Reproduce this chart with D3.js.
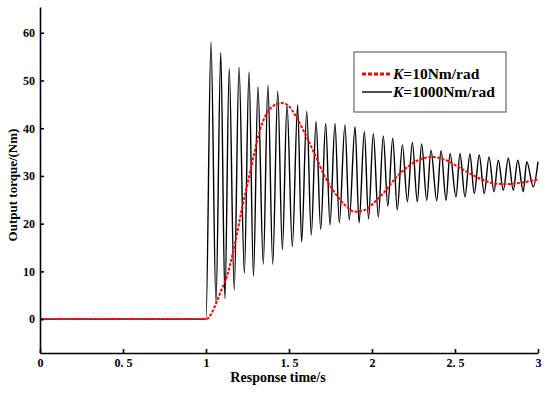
<!DOCTYPE html>
<html>
<head>
<meta charset="utf-8">
<script src="https://cdn.jsdelivr.net/npm/d3@7"></script>
<style>
  html, body { margin: 0; padding: 0; background: #fff; }
  svg { display: block; font-family: "Liberation Serif", "Times New Roman", serif; }
  .axis path, .axis line { stroke: #000; stroke-width: 1.6; }
  .axis text { font-size: 12px; font-weight: bold; fill: #000; font-family: "Liberation Serif", serif; }
</style>
</head>
<body>
<svg id="chart" width="550" height="393"></svg>
<script>
// axis ticks
const xTicks = [0, 0.5, 1, 1.5, 2, 2.5, 3];
const xTickLabels = ["0", "0. 5", "1", "1. 5", "2", "2. 5", "3"];
const yTicks = [0, 10, 20, 30, 40, 50, 60];

// K=10Nm/rad (red dashed)
const redT = [0, 1.0, 1.03, 1.05, 1.084, 1.125, 1.175, 1.215, 1.255, 1.295, 1.325, 1.366, 1.41, 1.456,
  1.50, 1.536, 1.596, 1.657, 1.717, 1.777, 1.837, 1.898, 1.958, 2.018, 2.068, 2.149, 2.229, 2.309,
  2.36, 2.43, 2.52, 2.58, 2.66, 2.74, 2.82, 2.90, 3.0];
const redV = [0, 0, 1.0, 2.4, 5.4, 8.9, 15.9, 22.9, 29.1, 35.4, 39.6, 43.1, 44.8, 45.3,
  44.6, 42.8, 38.9, 34.4, 29.8, 26.4, 23.9, 22.5, 22.9, 24.6, 26.4, 29.8, 32.3, 33.7,
  34.0, 33.5, 31.9, 30.7, 29.3, 28.4, 28.3, 28.6, 29.3];

// K=1000Nm/rad (black) - peaks and troughs
const blackPeakT = [1.030, 1.089, 1.140, 1.199, 1.259, 1.313, 1.373, 1.432, 1.488, 1.552, 1.607, 1.663,
  1.721, 1.777, 1.837, 1.898, 1.954, 2.008, 2.068, 2.125, 2.183, 2.243, 2.299, 2.355, 2.416, 2.470,
  2.530, 2.590, 2.646, 2.705, 2.761, 2.821, 2.878, 2.932];
const blackPeakV = [58.1, 55.8, 52.5, 52.8, 51.8, 48.7, 49.0, 47.7, 44.9, 44.9, 43.5, 41.4,
  41.0, 41.0, 40.7, 40.3, 39.3, 38.9, 38.4, 37.9, 36.5, 37.0, 36.7, 35.4, 35.3, 34.7,
  34.7, 34.6, 34.4, 34.0, 33.3, 33.7, 33.3, 33.0];
const blackTroughT = [1.060, 1.114, 1.170, 1.231, 1.286, 1.345, 1.402, 1.460, 1.520, 1.576, 1.634, 1.691,
  1.747, 1.803, 1.863, 1.922, 1.979, 2.038, 2.095, 2.152, 2.213, 2.273, 2.330, 2.390, 2.446, 2.506,
  2.560, 2.616, 2.676, 2.735, 2.791, 2.851, 2.911, 2.972];
const blackTroughV = [3.5, 4.3, 6.1, 9.6, 9.0, 11.5, 11.5, 14.6, 15.2, 16.2, 17.6, 18.8,
  19.7, 20.2, 20.8, 20.2, 21.0, 21.4, 23.7, 22.9, 24.6, 24.6, 24.9, 24.8, 24.9, 25.6,
  25.6, 26.3, 26.3, 26.7, 27.0, 27.0, 26.7, 27.7];
const blackStartT = [0, 1.0];
const blackStartV = [0, 0];
const blackEndT = [3.0];
const blackEndV = [33.0];

const legendLabels = [["K", "=10Nm/rad"], ["K", "=1000Nm/rad"]];

const svg = d3.select("#chart");

const x = d3.scaleLinear().domain([0, 3]).range([40, 538]);
const y = d3.scaleLinear().domain([-7.1, 65.4]).range([353, 7]);

// build series
const redData = redT.map((t, i) => [t, redV[i]]);
const blackData = []
  .concat(blackStartT.map((t, i) => [t, blackStartV[i]]))
  .concat(blackPeakT.map((t, i) => [t, blackPeakV[i]]))
  .concat(blackTroughT.map((t, i) => [t, blackTroughV[i]]))
  .concat(blackEndT.map((t, i) => [t, blackEndV[i]]))
  .sort((a, b) => a[0] - b[0]);

const line = d3.line()
  .x(d => x(d[0]))
  .y(d => y(d[1]))
  .curve(d3.curveMonotoneX);

svg.append("path")
  .datum(blackData)
  .attr("d", line)
  .attr("fill", "none")
  .attr("stroke", "#000")
  .attr("stroke-width", 1.4);

svg.append("path")
  .datum(redData)
  .attr("d", line)
  .attr("fill", "none")
  .attr("stroke", "#ff0000")
  .attr("stroke-width", 2)
  .attr("stroke-dasharray", "3,1.5");

// axes
svg.append("g").attr("class", "axis")
  .attr("transform", "translate(0,353)")
  .call(d3.axisBottom(x).tickValues(xTicks)
    .tickFormat((d, i) => xTickLabels[i])
    .tickSizeInner(-4).tickSizeOuter(0).tickPadding(5));

svg.append("g").attr("class", "axis")
  .attr("transform", "translate(40,0)")
  .call(d3.axisLeft(y).tickValues(yTicks)
    .tickSizeInner(-4).tickSizeOuter(0).tickPadding(5));

// axis titles
svg.append("text")
  .attr("x", 278).attr("y", 382)
  .attr("text-anchor", "middle")
  .attr("font-size", 14).attr("font-weight", "bold")
  .text("Response time/s");

svg.append("text")
  .attr("transform", "translate(17,185) rotate(-90)")
  .attr("text-anchor", "middle")
  .attr("font-size", 13).attr("font-weight", "bold")
  .text("Output torque/(Nm)");

// legend
const lg = svg.append("g");
lg.append("rect")
  .attr("x", 354).attr("y", 52).attr("width", 152).attr("height", 60)
  .attr("fill", "#fff").attr("stroke", "#666").attr("stroke-width", 1.2);

const legendStyles = [
  { stroke: "#ff0000", dash: "4,2", width: 3 },
  { stroke: "#000", dash: null, width: 1.4 }
];
legendLabels.forEach((lbl, i) => {
  const yy = 74 + i * 18;
  lg.append("line")
    .attr("x1", 362).attr("x2", 392).attr("y1", yy).attr("y2", yy)
    .attr("stroke", legendStyles[i].stroke)
    .attr("stroke-width", legendStyles[i].width)
    .attr("stroke-dasharray", legendStyles[i].dash);
  const t = lg.append("text")
    .attr("x", 393).attr("y", yy + 5)
    .attr("font-size", 15.5).attr("font-weight", "bold");
  t.append("tspan").attr("font-style", "italic").text(lbl[0]);
  t.append("tspan").text(lbl[1]);
});
</script>
</body>
</html>
